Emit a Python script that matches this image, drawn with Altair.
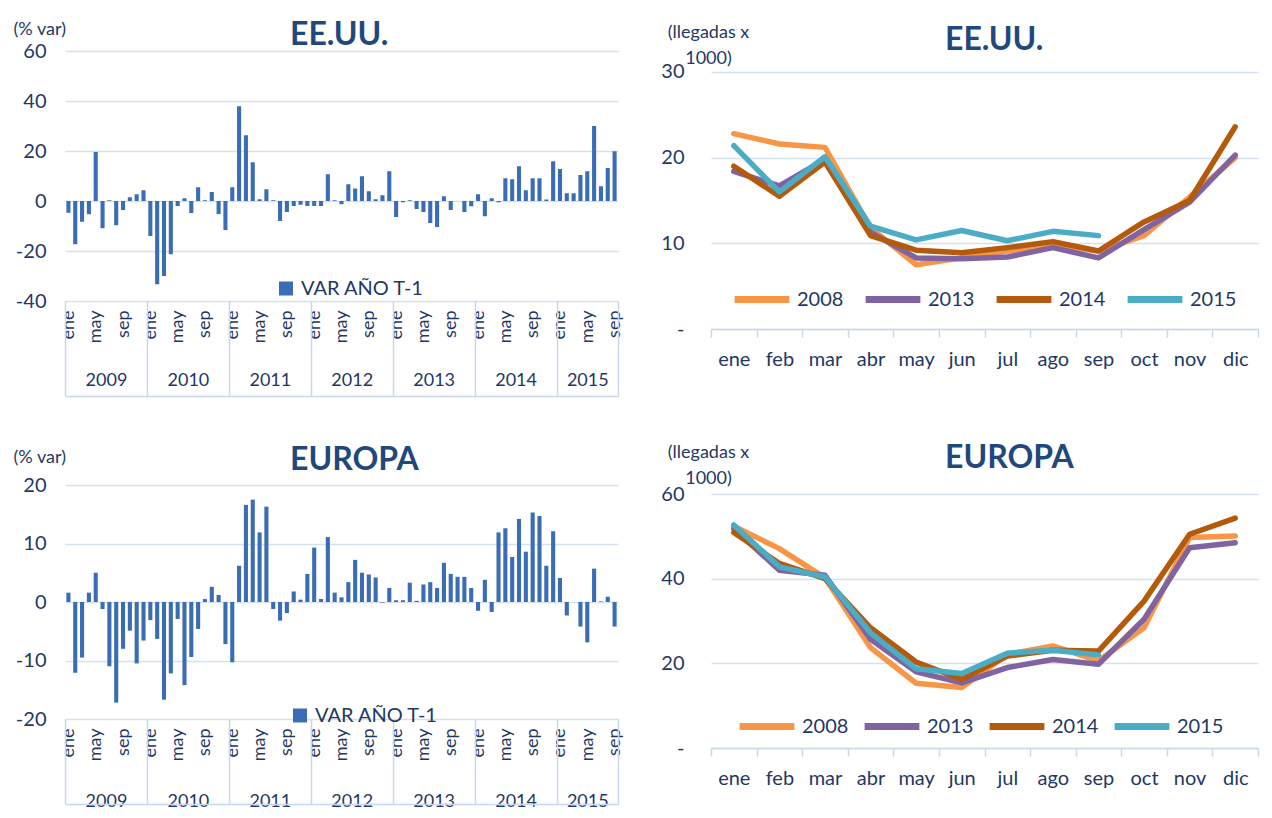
import altair as alt
import pandas as pd

MESES = ["ene", "feb", "mar", "abr", "may", "jun", "jul", "ago", "sep", "oct", "nov", "dic"]
ANIO_INICIO = 2009
SERIE_VAR = "VAR AÑO T-1"

# % variation vs same month previous year, ene-2009 .. sep-2015
USA_VAR = [
    -4.7, -17.3, -8.3, -5.3, 19.6, -10.9, 0.3, -9.7, -3.6, 1.5, 2.7, 4.3,
    -14.0, -33.3, -30.0, -21.3, -2.0, 1.1, -4.8, 5.5, 0.3, 3.6, -5.2, -11.6,
    5.5, 37.9, 26.3, 15.5, 0.7, 4.7, 0.3, -8.0, -4.4, -2.0, -1.5, -2.0,
    -2.0, -2.0, 10.7, 0.3, -1.3, 6.7, 5.0, 9.9, 3.9, 0.7, 2.3, 11.9,
    -6.4, -0.5, 0.3, -3.2, -4.4, -8.8, -10.4, 1.9, -3.6, 0.0, -4.4, -2.1,
    2.7, -6.1, 1.1, -0.5, 9.1, 8.7, 13.9, 4.3, 9.1, 9.1, 0.6, 15.9,
    12.8, 3.1, 3.1, 10.4, 11.9, 30.0, 5.9, 13.2, 19.9,
]
EUR_VAR = [
    1.6, -12.1, -9.5, 1.6, 5.0, -1.2, -11.0, -17.2, -8.0, -4.9, -10.5, -6.6,
    -3.1, -6.3, -16.7, -12.2, -2.9, -14.2, -9.4, -4.6, 0.5, 2.6, 1.2, -7.2,
    -10.3, 6.2, 16.6, 17.5, 11.9, 16.3, -1.2, -3.2, -1.9, 1.8, 0.4, 4.8,
    9.3, 0.5, 11.1, 1.6, 0.8, 3.4, 7.2, 5.0, 4.7, 4.2, -0.1, 2.4,
    0.3, 0.3, 3.3, 0.2, 3.0, 3.4, 2.4, 6.7, 4.8, 4.3, 4.3, 2.4,
    -1.5, 3.8, -1.7, 11.9, 12.6, 7.7, 14.2, 8.6, 15.3, 14.7, 6.2, 12.1,
    4.1, -2.3, 0.0, -4.2, -6.9, 5.7, 0.1, 0.9, -4.2,
]

# arrivals (x 1000)
ANIOS = ["2008", "2013", "2014", "2015"]
USA_2008 = [22.8, 21.6, 21.2, 11.8, 7.5, 8.3, 9.1, 9.9, 9.1, 10.9, 15.4, 20.0]
USA_2013 = [18.4, 16.7, 19.8, 11.3, 8.3, 8.2, 8.4, 9.5, 8.3, 11.6, 14.8, 20.3]
USA_2014 = [19.0, 15.5, 19.5, 10.9, 9.2, 8.9, 9.5, 10.2, 9.1, 12.5, 15.0, 23.6]
USA_2015 = [21.4, 16.0, 20.1, 12.0, 10.4, 11.5, 10.3, 11.4, 10.9]
EUR_2008 = [52.4, 47.1, 40.2, 23.7, 15.3, 14.3, 22.1, 24.1, 20.6, 28.4, 49.7, 50.1]
EUR_2013 = [51.8, 42.0, 40.8, 25.7, 18.0, 15.4, 19.0, 20.9, 19.8, 30.4, 47.3, 48.5]
EUR_2014 = [50.9, 43.6, 40.0, 28.4, 20.3, 16.2, 21.7, 23.1, 22.9, 34.7, 50.5, 54.3]
EUR_2015 = [52.7, 42.8, 40.4, 27.2, 18.7, 17.6, 22.4, 23.1, 22.0]

FONT = "Lato"
TEXT = "#1F3864"
TITLE = "#1F497D"
GRID = "#D6E1F0"
BOX = "#C8D7EB"
BAR = "#3A6DB5"
LINE_COLORS = ["#F79646", "#8064A2", "#B45A0C", "#4BACC6"]

MES_EXPR = "[" + ",".join("'%s'" % m for m in MESES) + "][floor(datum.value) % 12]"


def title_params(text, dx, offset):
    return alt.TitleParams(text, anchor="start", frame="group", dx=dx, fontSize=32,
                           fontWeight="bold", color=TITLE, offset=offset,
                           baseline="alphabetic", font=FONT)


def bar_panel(vals, ymin, ymax, ystep, height, title, title_offset, ytitle_y,
              box, year_off, legend_x, legend_y):
    n = len(vals)
    df = pd.DataFrame({
        "x0": [k + 0.2 for k in range(n)],
        "x1": [k + 0.8 for k in range(n)],
        "v": vals,
        "serie": SERIE_VAR,
    })
    xs = alt.Scale(domain=[0, n], nice=False, zero=False, padding=0)
    y_enc = alt.Y(
        "v:Q",
        scale=alt.Scale(domain=[ymin, ymax], nice=False, padding=0),
        axis=alt.Axis(
            values=list(range(ymin, ymax + 1, ystep)),
            labelExpr="'' + datum.value",
            grid=True, gridColor=GRID, gridWidth=1.5, domain=False, ticks=False,
            labelFontSize=20, labelColor=TEXT, labelPadding=19, title=None,
        ),
    )
    y2_enc = alt.datum(0)
    month_vals = [k + 0.5 for k in range(n) if k % 12 in (0, 4, 8)]
    year_bounds = [12 * k for k in range((n + 11) // 12)] + [n]
    year_mid = [(year_bounds[k] + year_bounds[k + 1]) / 2 for k in range(len(year_bounds) - 1)]

    bars = alt.Chart(df).mark_bar(color=BAR).encode(
        x=alt.X("x0:Q", scale=xs, axis=alt.Axis(
            orient="bottom", values=month_vals, labelExpr=MES_EXPR, labelAngle=270,
            labelFontSize=18, labelColor=TEXT, labelPadding=9, ticks=False,
            domain=False, grid=False, title=None, labelOverlap=False, labelFlush=False)),
        x2="x1",
        y=y_enc, y2=y2_enc,
        color=alt.Color("serie:N", scale=alt.Scale(domain=[SERIE_VAR], range=[BAR]),
                        legend=alt.Legend(orient="none", legendX=legend_x, legendY=legend_y,
                                          title=None, symbolType="square", symbolSize=196,
                                          symbolStrokeWidth=0, labelFontSize=20,
                                          labelColor=TEXT, labelOffset=5, labelFont=FONT)),
    )

    def ghost(axis):
        return alt.Chart(df).mark_bar(opacity=0).encode(
            x=alt.X("x0:Q", scale=xs, axis=axis), x2="x1", y=y_enc, y2=y2_enc)

    seps = ghost(alt.Axis(
        orient="bottom", values=year_bounds, labels=False, tickSize=box,
        tickColor=BOX, tickWidth=1.5, domain=False, grid=False, title=None))
    years = ghost(alt.Axis(
        orient="bottom", values=year_mid,
        labelExpr="'' + (%d + floor(datum.value / 12))" % ANIO_INICIO,
        ticks=False, domain=False, grid=False, title=None, offset=year_off,
        labelFontSize=18, labelColor=TEXT, labelPadding=0, labelOverlap=False,
        labelFlush=False))
    bottom = ghost(alt.Axis(
        orient="bottom", values=year_bounds, labels=False, ticks=False,
        domain=True, domainColor=BOX, domainWidth=1.5, grid=False, title=None,
        offset=box))
    unit = ghost(alt.Axis(
        orient="top", labels=False, ticks=False, domain=False, grid=False,
        title="(% var)", titleAngle=0, titleAlign="left", titleBaseline="top",
        titleX=-52, titleY=ytitle_y, titleFontSize=18, titleFontWeight="normal",
        titleColor=TEXT))
    return alt.layer(bars, seps, years, bottom, unit).resolve_axis(x="independent").properties(
        width=553, height=height, title=title_params(title, 225, title_offset))


def line_panel(series, ymax, ytop, height, title, title_offset, ytitle_y,
               legend_x, legend_y, colpad):
    rows = []
    for anio, vals in zip(ANIOS, series):
        for m, v in zip(MESES, vals):
            rows.append({"mes": m, "anio": anio, "v": v})
    df = pd.DataFrame(rows)
    xs = alt.Scale(type="band", paddingInner=0, paddingOuter=0)
    y_enc = alt.Y("v:Q", scale=alt.Scale(domain=[0, ytop], nice=False),
                  axis=alt.Axis(values=list(range(0, ymax + 1, ymax // 3)),
                                labelExpr="datum.value == 0 ? '-' : '' + datum.value",
                                grid=True, gridColor=GRID, gridWidth=1.5, domain=False,
                                ticks=False, labelFontSize=20, labelColor=TEXT,
                                labelPadding=27, title=None))
    lines = alt.Chart(df).mark_line(strokeWidth=5.5, strokeCap="round", strokeJoin="round").encode(
        x=alt.X("mes:N", sort=MESES, bandPosition=0.5, scale=xs,
                axis=alt.Axis(orient="bottom", tickBand="extent", ticks=True, tickSize=8,
                              tickColor=BOX, tickWidth=1.5, domainColor=BOX,
                              domainWidth=1.5, labelAngle=0, labelFontSize=20,
                              labelColor=TEXT, labelPadding=12, title=None, grid=False)),
        y=y_enc,
        color=alt.Color("anio:N", scale=alt.Scale(domain=ANIOS, range=LINE_COLORS),
                        legend=alt.Legend(orient="none", direction="horizontal",
                                          legendX=legend_x, legendY=legend_y, title=None,
                                          symbolType="stroke", symbolSize=3000,
                                          symbolStrokeWidth=7, labelFontSize=20,
                                          labelColor=TEXT, labelOffset=4,
                                          columnPadding=colpad, labelFont=FONT)),
    )
    unit = alt.Chart(df).mark_point(opacity=0).encode(
        x=alt.X("mes:N", sort=MESES, bandPosition=0.5, scale=xs,
                axis=alt.Axis(orient="top", labels=False, ticks=False, domain=False,
                              grid=False, title=["(llegadas x", "1000)"], titleAngle=0,
                              titleAlign="center", titleBaseline="top", titleX=-3,
                              titleY=ytitle_y, titleFontSize=18, titleFontWeight="normal",
                              titleColor=TEXT, titleLineHeight=26)),
        y=y_enc,
    )
    return alt.layer(lines, unit).resolve_axis(x="independent").properties(
        width=547, height=height, title=title_params(title, 234, title_offset))


tl = bar_panel(USA_VAR, -40, 60, 20, 250, "EE.UU.", -57, -31, 95, 70, 211, 227.5)
bl = bar_panel(EUR_VAR, -20, 20, 10, 234, "EUROPA", -54, -37, 85, 73, 225, 220.5)
tr = line_panel([USA_2008, USA_2013, USA_2014, USA_2015], 30, 32.45, 278, "EE.UU.",
                -58.5, -27.5, 20, 217.5, 7)
br = line_panel([EUR_2008, EUR_2013, EUR_2014, EUR_2015], 60, 62.13, 263, "EUROPA",
                -56.5, -41.5, 25, 210.5, 1)

chart = alt.concat(
    tl, tr, bl, br, columns=2, spacing={"row": 156, "column": 93},
    bounds="flush", align="each",
).resolve_scale(color="independent").properties(
    padding={"left": 5, "top": 11, "right": 2, "bottom": 0}
).configure(font=FONT).configure_view(stroke=None)

chart.save("out.html", embed_options={"renderer": "svg", "actions": False})
